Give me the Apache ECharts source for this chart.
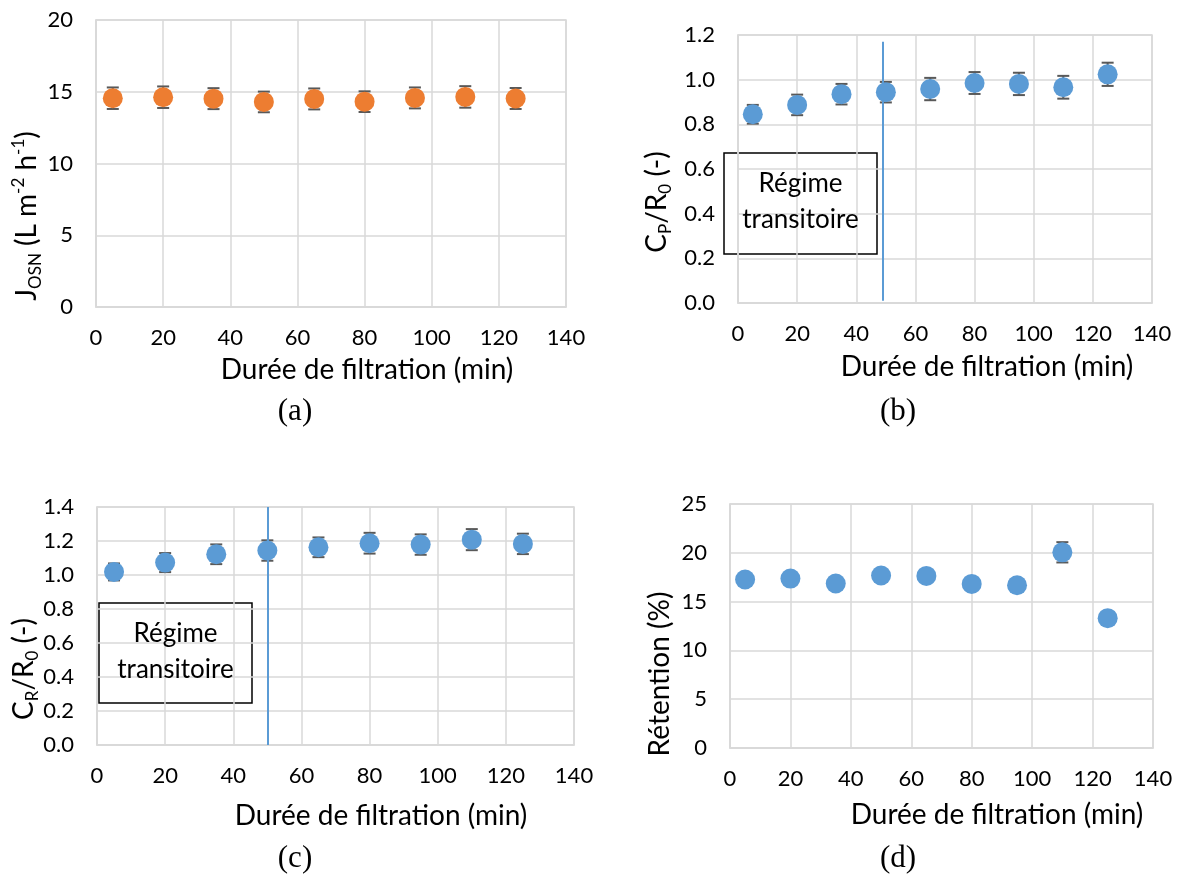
<!DOCTYPE html>
<html>
<head>
<meta charset="utf-8">
<script src="https://cdn.jsdelivr.net/npm/echarts@6/dist/echarts.min.js"></script>
<style>
html,body{margin:0;padding:0;background:#fff;}
#chart{width:1180px;height:876px;}
</style>
</head>
<body>
<div id="chart"></div>
<script>
// ---- data ----
const durations = [5, 20, 35, 50, 65, 80, 95, 110, 125];
const fluxJ      = [14.55, 14.62, 14.52, 14.29, 14.50, 14.31, 14.57, 14.64, 14.53];
const fluxErr    = [0.75, 0.75, 0.73, 0.72, 0.73, 0.72, 0.73, 0.75, 0.73];
const cpR0       = [0.845, 0.887, 0.935, 0.944, 0.958, 0.985, 0.981, 0.966, 1.024];
const cpErr      = [0.042, 0.046, 0.046, 0.046, 0.050, 0.049, 0.050, 0.051, 0.052];
const crR0       = [1.018, 1.073, 1.122, 1.144, 1.163, 1.187, 1.179, 1.208, 1.183];
const crErr      = [0.050, 0.056, 0.058, 0.060, 0.058, 0.061, 0.060, 0.062, 0.060];
const retention  = [17.26, 17.36, 16.85, 17.67, 17.63, 16.81, 16.68, 20.05, 13.30];
const retErr     = [0.45, 0.45, 0.45, 0.45, 0.45, 0.45, 0.45, 1.04, 0.30];
const transitionB = 49;  const transitionRangeB = [0.01, 1.17];
const transitionC = 50;  const transitionRangeC = [0.0, 1.4];
const boxLines = ['Régime', 'transitoire'];
const xTitle = 'Durée de filtration (min)';
const panelLabels = ['(a)', '(b)', '(c)', '(d)'];

const FONT = 'Lato';
const GRID_C = '#D9D9D9';
const ORANGE = '#ED7D31';
const BLUE = '#5B9BD5';
const ERR_C = '#595959';
const TITLE_SIZE = 28;

const grids = [
  {left: 96,  top: 20,  width: 470, height: 287},
  {left: 738, top: 35,  width: 414, height: 268},
  {left: 97,  top: 507, width: 477, height: 238},
  {left: 730, top: 504, width: 423, height: 244}
].map(g => Object.assign({show: true, borderColor: GRID_C, borderWidth: 1.5, backgroundColor: '#fff'}, g));

const yCfg = [
  {max: 20, interval: 5, dec: 0},
  {max: 1.2, interval: 0.2, dec: 1},
  {max: 1.4, interval: 0.2, dec: 1},
  {max: 25, interval: 5, dec: 0}
];

const xAxes = grids.map((g, i) => ({
  type: 'value', gridIndex: i, min: 0, max: 140, interval: 20,
  axisLine: {show: true, lineStyle: {color: GRID_C, width: 1.5}},
  axisTick: {show: false},
  splitLine: {show: true, lineStyle: {color: GRID_C, width: 1.5}},
  axisLabel: {color: '#000', fontFamily: FONT, fontSize: 22, margin: 20}
}));
const yAxes = yCfg.map((c, i) => ({
  type: 'value', gridIndex: i, min: 0, max: c.max, interval: c.interval,
  axisLine: {show: true, lineStyle: {color: GRID_C, width: 1.5}},
  axisTick: {show: false},
  splitLine: {show: true, lineStyle: {color: GRID_C, width: 1.5}},
  axisLabel: {color: '#000', fontFamily: FONT, fontSize: 22, margin: 23,
    formatter: v => v.toFixed(c.dec)}
}));

function errSeries(idx, vals, errs) {
  return {
    type: 'custom', xAxisIndex: idx, yAxisIndex: idx, z: 2,
    data: durations.map((d, k) => [d, vals[k] - errs[k], vals[k] + errs[k]]),
    renderItem: function (params, api) {
      const lo = api.coord([api.value(0), api.value(1)]);
      const hi = api.coord([api.value(0), api.value(2)]);
      const w = 6;
      const st = {stroke: ERR_C, lineWidth: 2};
      return {type: 'group', children: [
        {type: 'line', shape: {x1: lo[0], y1: lo[1], x2: hi[0], y2: hi[1]}, style: st},
        {type: 'line', shape: {x1: lo[0] - w, y1: lo[1], x2: lo[0] + w, y2: lo[1]}, style: st},
        {type: 'line', shape: {x1: hi[0] - w, y1: hi[1], x2: hi[0] + w, y2: hi[1]}, style: st}
      ]};
    }
  };
}
function scatter(idx, vals, color) {
  return {
    type: 'scatter', xAxisIndex: idx, yAxisIndex: idx, z: 3,
    symbol: 'circle', symbolSize: 20,
    itemStyle: {color: color, opacity: 1},
    data: durations.map((d, k) => [d, vals[k]])
  };
}
function vline(idx, xv, range) {
  return {
    type: 'line', xAxisIndex: idx, yAxisIndex: idx, z: 4, data: [],
    markLine: {
      silent: true, symbol: ['none', 'none'], label: {show: false},
      lineStyle: {color: BLUE, width: 2, type: 'solid'},
      data: [[{coord: [xv, range[0]]}, {coord: [xv, range[1]]}]]
    }
  };
}

const txt = (x, y, text, size, extra) => Object.assign({
  type: 'text', x: x, y: y, z: 10,
  style: Object.assign({text: text, fontFamily: FONT, fontSize: size, fill: '#000',
    align: 'center', verticalAlign: 'middle'}, extra || {})
});
const rich = {
  n: {fontFamily: FONT, fontSize: TITLE_SIZE, fill: '#000', lineHeight: 34},
  sub: {fontFamily: FONT, fontSize: 17, fill: '#000', verticalAlign: 'bottom', lineHeight: 34},
  sup: {fontFamily: FONT, fontSize: 17, fill: '#000', verticalAlign: 'top', lineHeight: 34}
};
const ytitle = (x, y, text) => ({
  type: 'text', x: x, y: y, rotation: Math.PI / 2, z: 10,
  style: {text: text, rich: rich, align: 'center', verticalAlign: 'middle'}
});
const box = (x, y, w, h) => ({
  type: 'group', z: 20, children: [
    {type: 'rect', shape: {x: x, y: y, width: w, height: h},
      style: {fill: '#fff', stroke: '#000', lineWidth: 1.5}},
    txt(x + w / 2, y + 31, boxLines[0], 26),
    txt(x + w / 2, y + 67, boxLines[1], 26)
  ]
});

const serif = {fontFamily: 'Liberation Serif'};
const graphic = [
  txt(367, 370, xTitle, TITLE_SIZE), txt(987, 367, xTitle, TITLE_SIZE),
  txt(381, 816, xTitle, TITLE_SIZE), txt(997, 815, xTitle, TITLE_SIZE),
  txt(295, 412, panelLabels[0], 31, serif),
  txt(898, 412, panelLabels[1], 31, serif),
  txt(295, 859, panelLabels[2], 31, serif),
  txt(898, 859, panelLabels[3], 31, serif),
  ytitle(27, 216, '{n|J}{sub|OSN}{n| (L m}{sup|-2}{n| h}{sup|-1}{n|)}'),
  ytitle(657, 202, '{n|C}{sub|P}{n|/R}{sub|0}{n| (-)}'),
  ytitle(24, 669, '{n|C}{sub|R}{n|/R}{sub|0}{n| (-)}'),
  ytitle(660, 674, '{n|Rétention (%)}'),
  box(724, 153, 153, 101),
  box(99, 603, 153, 100)
];

const chart = echarts.init(document.getElementById('chart'), null, {renderer: 'canvas'});
chart.setOption({
  animation: false,
  backgroundColor: '#fff',
  grid: grids,
  xAxis: xAxes,
  yAxis: yAxes,
  graphic: graphic,
  series: [
    errSeries(0, fluxJ, fluxErr), scatter(0, fluxJ, ORANGE),
    errSeries(1, cpR0, cpErr), scatter(1, cpR0, BLUE), vline(1, transitionB, transitionRangeB),
    errSeries(2, crR0, crErr), scatter(2, crR0, BLUE), vline(2, transitionC, transitionRangeC),
    errSeries(3, retention, retErr), scatter(3, retention, BLUE)
  ]
});
</script>
</body>
</html>
